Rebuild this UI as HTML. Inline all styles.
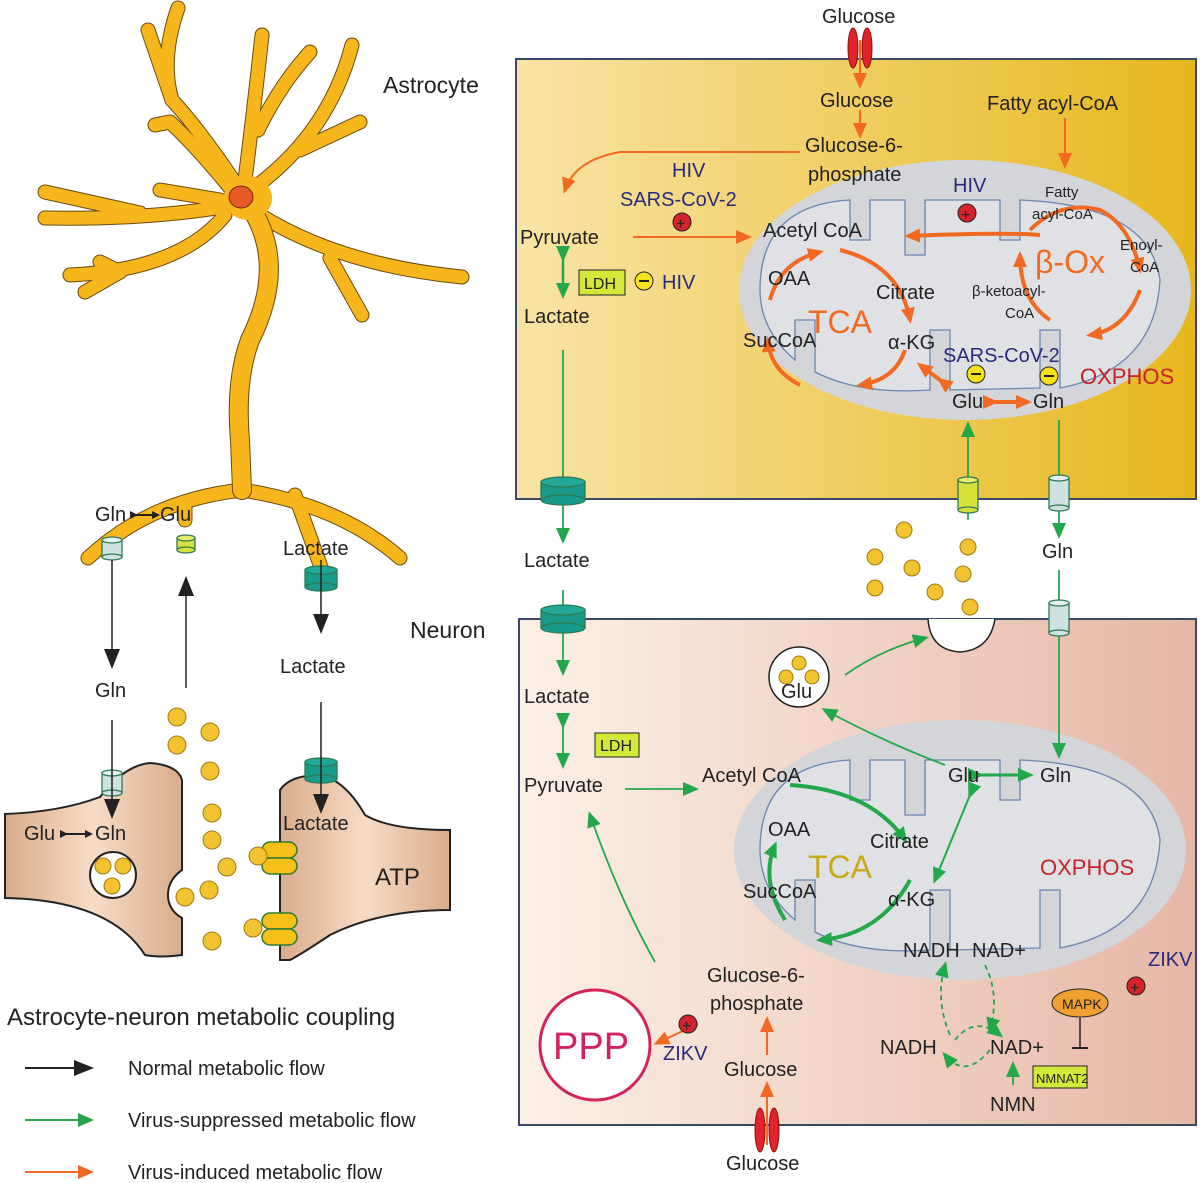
<!DOCTYPE html>
<html><head><meta charset="utf-8"><style>
html,body{margin:0;padding:0;background:#fff}
svg{display:block}
text{font-family:"Liberation Sans",sans-serif;font-size:20px;fill:#222}
</style></head><body>
<svg width="1200" height="1183" viewBox="0 0 1200 1183" xmlns="http://www.w3.org/2000/svg">
<defs>
<linearGradient id="ag" x1="0" x2="1"><stop offset="0" stop-color="#f8e4a6"/><stop offset="1" stop-color="#e7b71c"/></linearGradient>
<linearGradient id="ng" x1="0" x2="1"><stop offset="0" stop-color="#fcf0e6"/><stop offset="1" stop-color="#e6b7a6"/></linearGradient>
<linearGradient id="tg" x1="0" x2="1"><stop offset="0" stop-color="#d9ac8c"/><stop offset="0.5" stop-color="#f6dcc6"/><stop offset="1" stop-color="#d9ac8c"/></linearGradient>
<marker id="bk" markerWidth="8" markerHeight="8" refX="5" refY="4" orient="auto" markerUnits="userSpaceOnUse" viewBox="0 0 8 8"><path d="M0,0L8,4L0,8z" fill="#222"/></marker>
<marker id="bkL" markerWidth="20" markerHeight="20" refX="16" refY="10" orient="auto" markerUnits="userSpaceOnUse"><path d="M0,2L20,10L0,18z" fill="#222"/></marker>
<marker id="gr" markerWidth="16" markerHeight="16" refX="12" refY="8" orient="auto" markerUnits="userSpaceOnUse"><path d="M0,1L16,8L0,15z" fill="#22a84a"/></marker>
<marker id="or" markerWidth="16" markerHeight="16" refX="12" refY="8" orient="auto" markerUnits="userSpaceOnUse"><path d="M0,1L16,8L0,15z" fill="#f26a21"/></marker>
</defs>

<rect x="516" y="59" width="680" height="440" fill="url(#ag)" stroke="#3b4868" stroke-width="2"/>
<rect x="519" y="619" width="677" height="506" fill="url(#ng)" stroke="#3b4868" stroke-width="2"/>

<ellipse cx="965" cy="290" rx="226" ry="130" fill="#d3d5d8"/>
<path d="M760,290 Q760,205 850,200 L850,240 L870,240 L870,200 L905,200 L905,255 L925,255 L925,200 L1000,200 L1000,240 L1020,240 L1020,200 Q1150,205 1160,280 Q1155,370 1060,388 L1060,330 L1040,330 L1040,388 L950,390 L950,330 L930,330 L930,390 Q860,395 815,372 L815,320 L795,320 L795,360 Q760,330 760,290z" fill="#dfe1e4" stroke="#6b86b0" stroke-width="1.3"/>
<ellipse cx="960" cy="850" rx="226" ry="130" fill="#d3d5d8"/>
<path d="M760,850 Q760,765 850,760 L850,800 L870,800 L870,760 L905,760 L905,815 L925,815 L925,760 L1000,760 L1000,800 L1020,800 L1020,760 Q1150,765 1160,840 Q1155,930 1060,948 L1060,890 L1040,890 L1040,948 L950,950 L950,890 L930,890 L930,950 Q860,955 815,932 L815,880 L795,880 L795,920 Q760,890 760,850z" fill="#dfe1e4" stroke="#6b86b0" stroke-width="1.3"/>

<!-- Astrocyte cell drawing -->
<g fill="none" stroke-linecap="round" stroke-linejoin="round">
<g stroke="#6a4a10" stroke-width="15">
<path d="M240,190 Q200,130 172,100 Q160,60 178,8"/><path d="M172,100 L148,30"/>
<path d="M245,180 Q255,100 262,35"/><path d="M258,130 Q280,85 310,52"/>
<path d="M258,185 Q330,130 352,45"/><path d="M300,150 L360,122"/>
<path d="M235,205 Q150,220 45,218"/><path d="M140,213 L45,192"/><path d="M220,200 L160,190"/>
<path d="M225,215 Q180,270 70,275"/><path d="M120,272 L85,292"/><path d="M120,272 L100,262"/>
<path d="M240,200 Q200,150 170,122 L155,125"/>
<path d="M260,215 Q340,265 462,277"/><path d="M330,258 L362,315"/>
<path d="M242,490 Q150,500 88,558"/><path d="M242,490 Q340,505 400,558"/><path d="M295,495 L322,570"/><path d="M185,505 L185,520"/>
</g>
<g stroke="#f7b71c" stroke-width="13">
<path d="M240,190 Q200,130 172,100 Q160,60 178,8"/><path d="M172,100 L148,30"/>
<path d="M245,180 Q255,100 262,35"/><path d="M258,130 Q280,85 310,52"/>
<path d="M258,185 Q330,130 352,45"/><path d="M300,150 L360,122"/>
<path d="M235,205 Q150,220 45,218"/><path d="M140,213 L45,192"/><path d="M220,200 L160,190"/>
<path d="M225,215 Q180,270 70,275"/><path d="M120,272 L85,292"/><path d="M120,272 L100,262"/>
<path d="M240,200 Q200,150 170,122 L155,125"/>
<path d="M260,215 Q340,265 462,277"/><path d="M330,258 L362,315"/>
<path d="M242,490 Q150,500 88,558"/><path d="M242,490 Q340,505 400,558"/><path d="M295,495 L322,570"/><path d="M185,505 L185,520"/>
</g>
<path d="M255,215 Q285,270 250,340 Q235,380 240,440 L242,490" stroke="#6a4a10" stroke-width="20"/>
<path d="M255,215 Q285,270 250,340 Q235,380 240,440 L242,490" stroke="#f7b71c" stroke-width="18"/>
</g>
<ellipse cx="248" cy="198" rx="24" ry="22" fill="#f7b71c"/>
<ellipse cx="241" cy="197" rx="12" ry="11" fill="#e85a25" stroke="#6a2a10"/>

<g stroke="#2e7a55" stroke-width="1.3">
<rect x="102" y="540" width="20" height="17" fill="#cfe2e2"/><ellipse cx="112" cy="557" rx="10" ry="3" fill="#cfe2e2"/><ellipse cx="112" cy="540" rx="10" ry="3" fill="#e6f0f0"/>
<rect x="177" y="538" width="18" height="12" fill="#d8e03a"/><ellipse cx="186" cy="550" rx="9" ry="3" fill="#d8e03a"/><ellipse cx="186" cy="538" rx="9" ry="3" fill="#e8ee6a"/>
<rect x="305" y="570" width="32" height="17" fill="#1a9a8a"/><ellipse cx="321" cy="587" rx="16" ry="4" fill="#1a9a8a"/><ellipse cx="321" cy="570" rx="16" ry="4" fill="#20a898"/>
</g>
<text x="95" y="521">Gln</text><text x="160" y="521">Glu</text>
<line x1="135" y1="515" x2="157" y2="515" stroke="#222" stroke-width="2" marker-end="url(#bk)" marker-start="url(#bk)"/>
<text x="283" y="555">Lactate</text>

<g stroke="#222" stroke-width="1.5" fill="none">
<line x1="112" y1="560" x2="112" y2="665" marker-end="url(#bkL)"/>
<line x1="186" y1="688" x2="186" y2="580" marker-end="url(#bkL)"/>
<line x1="321" y1="560" x2="321" y2="630" marker-end="url(#bkL)"/>
<line x1="345" y1="850" x2="362" y2="865" marker-end="url(#bkL)"/>
</g>
<text x="95" y="697">Gln</text><text x="280" y="673">Lactate</text>

<path d="M5,814 Q60,812 100,797 Q125,765 150,763 Q178,765 182,780 L182,870 Q168,880 168,895 Q168,910 182,918 L182,955 Q160,958 145,955 Q110,900 5,898 Z" fill="url(#tg)" stroke="#222" stroke-width="2"/>
<path d="M280,960 L280,790 Q290,775 320,775 Q345,780 365,815 Q390,830 450,830 L450,910 Q380,910 330,935 Q300,955 290,960 Z" fill="url(#tg)" stroke="#222" stroke-width="2"/>
<g stroke="#2e7a55" stroke-width="1.3">
<rect x="102" y="773" width="20" height="20" fill="#cfe2e2"/><ellipse cx="112" cy="793" rx="10" ry="3" fill="#cfe2e2"/><ellipse cx="112" cy="773" rx="10" ry="3" fill="#e6f0f0"/>
<rect x="305" y="762" width="32" height="17" fill="#1a9a8a"/><ellipse cx="321" cy="779" rx="16" ry="4" fill="#1a9a8a"/><ellipse cx="321" cy="762" rx="16" ry="4" fill="#20a898"/>
</g>
<line x1="112" y1="720" x2="112" y2="815" stroke="#222" stroke-width="1.5" marker-end="url(#bkL)"/>
<line x1="321" y1="702" x2="321" y2="810" stroke="#222" stroke-width="1.5" marker-end="url(#bkL)"/>
<text x="24" y="840">Glu</text><text x="95" y="840">Gln</text>
<line x1="65" y1="834" x2="90" y2="834" stroke="#222" stroke-width="2" marker-end="url(#bk)" marker-start="url(#bk)"/>
<text x="283" y="830">Lactate</text><text x="375" y="885" style="font-size:24px">ATP</text>
<circle cx="113" cy="875" r="23" fill="#fff" stroke="#222" stroke-width="2"/>
<g fill="#f2c230" stroke="#a07a10" stroke-width="1">
<circle cx="103" cy="866" r="8"/><circle cx="123" cy="866" r="8"/><circle cx="112" cy="886" r="8"/>
<circle cx="177" cy="717" r="9"/><circle cx="210" cy="732" r="9"/><circle cx="177" cy="745" r="9"/><circle cx="210" cy="771" r="9"/><circle cx="212" cy="813" r="9"/><circle cx="212" cy="840" r="9"/><circle cx="227" cy="867" r="9"/><circle cx="185" cy="897" r="9"/><circle cx="209" cy="890" r="9"/><circle cx="212" cy="941" r="9"/>
</g>
<g fill="#f5c018" stroke="#2e7a30" stroke-width="1.5">
<rect x="262" y="842" width="35" height="16" rx="8"/><rect x="262" y="858" width="35" height="16" rx="8"/>
<rect x="262" y="913" width="35" height="16" rx="8"/><rect x="262" y="929" width="35" height="16" rx="8"/>
<circle cx="258" cy="856" r="9" fill="#f2c230" stroke="#a07a10" stroke-width="1"/><circle cx="253" cy="928" r="9" fill="#f2c230" stroke="#a07a10" stroke-width="1"/>
</g>

<text x="7" y="1025" style="font-size:24px">Astrocyte-neuron metabolic coupling</text>
<line x1="25" y1="1068" x2="90" y2="1068" stroke="#222" stroke-width="2" marker-end="url(#bkL)"/>
<line x1="25" y1="1120" x2="90" y2="1120" stroke="#22a84a" stroke-width="2" marker-end="url(#gr)"/>
<line x1="25" y1="1172" x2="90" y2="1172" stroke="#f26a21" stroke-width="2" marker-end="url(#or)"/>
<text x="128" y="1075">Normal metabolic flow</text>
<text x="128" y="1127">Virus-suppressed metabolic flow</text>
<text x="128" y="1179">Virus-induced metabolic flow</text>

<text x="383" y="93" style="font-size:23px">Astrocyte</text>
<text x="410" y="638" style="font-size:23px">Neuron</text>

<text x="822" y="23">Glucose</text>
<g fill="#e3232a" stroke="#8a1010"><ellipse cx="853" cy="48" rx="5" ry="20"/><ellipse cx="867" cy="48" rx="5" ry="20"/></g>
<g stroke="#f26a21" stroke-width="2" fill="none">
<line x1="860" y1="40" x2="860" y2="85" marker-end="url(#or)"/>
<line x1="860" y1="110" x2="860" y2="135" marker-end="url(#or)"/>
<line x1="1065" y1="118" x2="1065" y2="165" marker-end="url(#or)"/>
<path d="M800,152 L620,152 Q575,160 565,190" marker-end="url(#or)"/>
<line x1="633" y1="237" x2="748" y2="237" marker-end="url(#or)"/>
<path d="M1040,235 Q1000,232 908,236" stroke-width="4" marker-end="url(#or)"/>
<path d="M940,380 L920,365" stroke-width="4" marker-end="url(#or)" marker-start="url(#or)"/>
<path d="M995,402 L1028,402" stroke-width="4" marker-end="url(#or)" marker-start="url(#or)"/>
</g>
<g stroke="#f26a21" stroke-width="4" fill="none">
<path d="M840,250 Q900,265 910,320" marker-end="url(#or)"/>
<path d="M905,350 Q895,380 860,385" marker-end="url(#or)"/>
<path d="M800,385 Q770,370 768,340" marker-end="url(#or)"/>
<path d="M770,300 Q780,262 820,252" marker-end="url(#or)"/>
<path d="M1030,230 Q1060,200 1100,210 Q1130,225 1140,270" marker-end="url(#or)"/>
<path d="M1140,290 Q1125,330 1090,335" marker-end="url(#or)"/>
<path d="M1050,320 Q1020,300 1020,255" marker-end="url(#or)"/>
</g>
<text x="820" y="107">Glucose</text>
<text x="987" y="110">Fatty acyl-CoA</text>
<text x="805" y="152">Glucose-6-</text><text x="808" y="181">phosphate</text>
<text x="520" y="244">Pyruvate</text>
<text x="524" y="323">Lactate</text>
<text x="672" y="177" style="fill:#2a2a7a">HIV</text>
<text x="620" y="206" style="fill:#2a2a7a">SARS-CoV-2</text>
<text x="953" y="192" style="fill:#2a2a7a">HIV</text>
<text x="763" y="237">Acetyl CoA</text>
<text x="768" y="285">OAA</text><text x="876" y="299">Citrate</text>
<text x="743" y="347">SucCoA</text><text x="888" y="349">α-KG</text>
<text x="808" y="333" style="font-size:32px;fill:#f26a21">TCA</text>
<text x="1035" y="273" style="font-size:32px;fill:#f26a21">β-Ox</text>
<text x="1045" y="197" style="font-size:15px">Fatty</text><text x="1032" y="219" style="font-size:15px">acyl-CoA</text>
<text x="1120" y="250" style="font-size:15px">Enoyl-</text><text x="1130" y="272" style="font-size:15px">CoA</text>
<text x="972" y="296" style="font-size:15px">β-ketoacyl-</text><text x="1005" y="318" style="font-size:15px">CoA</text>
<text x="943" y="362" style="fill:#2a2a7a">SARS-CoV-2</text>
<text x="1080" y="384" style="fill:#c4232a;font-size:22px">OXPHOS</text>
<text x="952" y="408">Glu</text><text x="1033" y="408">Gln</text>
<g stroke="#222"><circle cx="682" cy="222" r="9" fill="#d4232a"/><circle cx="967" cy="213" r="9" fill="#d4232a"/></g>
<text x="676" y="229" style="font-size:16px">+</text><text x="961" y="220" style="font-size:16px">+</text>
<g stroke="#222" fill="#f5e21a"><circle cx="644" cy="281" r="9"/><circle cx="976" cy="374" r="9"/><circle cx="1049" cy="376" r="9"/></g>
<g stroke="#222" stroke-width="2"><line x1="639" y1="281" x2="649" y2="281"/><line x1="971" y1="374" x2="981" y2="374"/><line x1="1044" y1="376" x2="1054" y2="376"/></g>
<rect x="579" y="270" width="46" height="25" fill="#d4e83a" stroke="#222"/><text x="584" y="289" style="font-size:16px">LDH</text>
<text x="662" y="289" style="fill:#2a2a7a">HIV</text>
<g stroke="#22a84a" stroke-width="2.5"><line x1="563" y1="258" x2="563" y2="295" marker-end="url(#gr)" marker-start="url(#gr)"/></g>

<g stroke="#22a84a" stroke-width="1.8" fill="none">
<line x1="563" y1="350" x2="563" y2="540" marker-end="url(#gr)"/>
<line x1="968" y1="520" x2="968" y2="425" marker-end="url(#gr)"/>
<line x1="1059" y1="420" x2="1059" y2="535" marker-end="url(#gr)"/>
<line x1="563" y1="590" x2="563" y2="672" marker-end="url(#gr)"/>
<line x1="563" y1="725" x2="563" y2="765" marker-end="url(#gr)" marker-start="url(#gr)"/>
<line x1="1059" y1="570" x2="1059" y2="755" marker-end="url(#gr)"/>
<line x1="625" y1="789" x2="695" y2="789" marker-end="url(#gr)"/>
<path d="M845,675 Q880,650 925,638" marker-end="url(#gr)"/>
<path d="M945,765 Q880,740 825,710" marker-end="url(#gr)"/>
<path d="M655,962 Q620,900 590,815" marker-end="url(#gr)"/>
<line x1="980" y1="775" x2="1030" y2="775" stroke-width="3" marker-end="url(#gr)" marker-start="url(#gr)"/>
<line x1="970" y1="795" x2="935" y2="880" stroke-width="2" marker-end="url(#gr)" marker-start="url(#gr)"/>
<line x1="1013" y1="1085" x2="1013" y2="1065" marker-end="url(#gr)"/>
</g>
<g stroke="#22a84a" stroke-width="4" fill="none">
<path d="M790,785 Q870,790 905,840" marker-end="url(#gr)"/>
<path d="M910,880 Q880,935 820,940" marker-end="url(#gr)"/>
<path d="M785,920 Q760,880 775,845" marker-end="url(#gr)"/>
</g>
<g stroke="#22a84a" stroke-width="1.8" stroke-dasharray="5,4" fill="none">
<path d="M950,1035 Q935,1000 945,965" marker-end="url(#gr)"/>
<path d="M985,965 Q1000,995 990,1030" marker-end="url(#gr)"/>
<path d="M990,1050 Q965,1080 945,1055" marker-end="url(#gr)"/>
<path d="M955,1040 Q975,1015 1000,1035" marker-end="url(#gr)"/>
</g>
<g stroke="#2e7a55" stroke-width="1.3">
<rect x="541" y="482" width="44" height="18" fill="#1a9a8a"/><ellipse cx="563" cy="500" rx="22" ry="5" fill="#1a9a8a"/><ellipse cx="563" cy="482" rx="22" ry="5" fill="#20a898"/>
<rect x="541" y="610" width="44" height="18" fill="#1a9a8a"/><ellipse cx="563" cy="628" rx="22" ry="5" fill="#1a9a8a"/><ellipse cx="563" cy="610" rx="22" ry="5" fill="#20a898"/>
<rect x="958" y="480" width="20" height="30" fill="#d8e03a"/><ellipse cx="968" cy="510" rx="10" ry="3" fill="#d8e03a"/><ellipse cx="968" cy="480" rx="10" ry="3" fill="#e8ee6a"/>
<rect x="1049" y="478" width="20" height="30" fill="#cfe2e2"/><ellipse cx="1059" cy="508" rx="10" ry="3" fill="#cfe2e2"/><ellipse cx="1059" cy="478" rx="10" ry="3" fill="#e6f0f0"/>
<rect x="1049" y="603" width="20" height="30" fill="#cfe2e2"/><ellipse cx="1059" cy="633" rx="10" ry="3" fill="#cfe2e2"/><ellipse cx="1059" cy="603" rx="10" ry="3" fill="#e6f0f0"/>
</g>
<text x="524" y="567">Lactate</text><text x="1042" y="558">Gln</text>
<path d="M928,619 Q930,650 960,652 Q990,650 995,619" fill="#fff" stroke="#222" stroke-width="1.5"/>
<g fill="#f2c230" stroke="#a07a10">
<circle cx="904" cy="530" r="8"/><circle cx="875" cy="557" r="8"/><circle cx="912" cy="568" r="8"/><circle cx="968" cy="547" r="8"/><circle cx="963" cy="574" r="8"/><circle cx="875" cy="588" r="8"/><circle cx="935" cy="592" r="8"/><circle cx="970" cy="607" r="8"/>
</g>
<circle cx="799" cy="677" r="30" fill="#fff" stroke="#222" stroke-width="1.5"/>
<g fill="#f2c230" stroke="#a07a10"><circle cx="799" cy="663" r="7"/><circle cx="786" cy="677" r="7"/><circle cx="812" cy="677" r="7"/></g>
<text x="781" y="698">Glu</text>

<text x="524" y="703">Lactate</text>
<rect x="595" y="733" width="44" height="24" fill="#d4e83a" stroke="#222"/><text x="600" y="751" style="font-size:16px">LDH</text>
<text x="524" y="792">Pyruvate</text>
<text x="702" y="782">Acetyl CoA</text>
<text x="948" y="782">Glu</text><text x="1040" y="782">Gln</text>
<text x="768" y="836">OAA</text><text x="870" y="848">Citrate</text>
<text x="743" y="898">SucCoA</text><text x="888" y="906">α-KG</text>
<text x="808" y="878" style="font-size:32px;fill:#c8a91a">TCA</text>
<text x="1040" y="875" style="fill:#c4232a;font-size:22px">OXPHOS</text>
<text x="903" y="957">NADH</text><text x="972" y="957">NAD+</text>
<text x="880" y="1054">NADH</text><text x="990" y="1054">NAD+</text>
<text x="990" y="1111">NMN</text>
<rect x="1033" y="1066" width="54" height="22" fill="#d4e83a" stroke="#222"/><text x="1036" y="1083" style="font-size:13px">NMNAT2</text>
<ellipse cx="1080" cy="1003" rx="28" ry="14" fill="#f0a030" stroke="#222"/><text x="1062" y="1009" style="font-size:14px">MAPK</text>
<line x1="1080" y1="1018" x2="1080" y2="1048" stroke="#222" stroke-width="1.5"/><line x1="1072" y1="1048" x2="1088" y2="1048" stroke="#222" stroke-width="2"/>
<text x="1148" y="966" style="fill:#2a2a7a">ZIKV</text>
<circle cx="1136" cy="986" r="9" fill="#d4232a" stroke="#222"/><text x="1130" y="993" style="font-size:16px">+</text>
<text x="707" y="982">Glucose-6-</text><text x="710" y="1010">phosphate</text>
<text x="724" y="1076">Glucose</text>
<text x="726" y="1170">Glucose</text>
<g fill="#e3232a" stroke="#8a1010"><ellipse cx="760" cy="1130" rx="5" ry="22"/><ellipse cx="774" cy="1130" rx="5" ry="22"/></g>
<g stroke="#f26a21" stroke-width="2" fill="none">
<line x1="767" y1="1145" x2="767" y2="1085" marker-end="url(#or)"/>
<line x1="767" y1="1055" x2="767" y2="1020" marker-end="url(#or)"/>
<line x1="698" y1="1024" x2="657" y2="1043" marker-end="url(#or)"/>
</g>
<circle cx="595" cy="1045" r="55" fill="#fff" stroke="#d4235a" stroke-width="3"/>
<text x="553" y="1059" style="font-size:38px;fill:#d4235a">PPP</text>
<circle cx="688" cy="1024" r="9" fill="#d4232a" stroke="#222"/><text x="682" y="1031" style="font-size:16px">+</text>
<text x="663" y="1060" style="fill:#2a2a7a">ZIKV</text>
</svg>
</body></html>
